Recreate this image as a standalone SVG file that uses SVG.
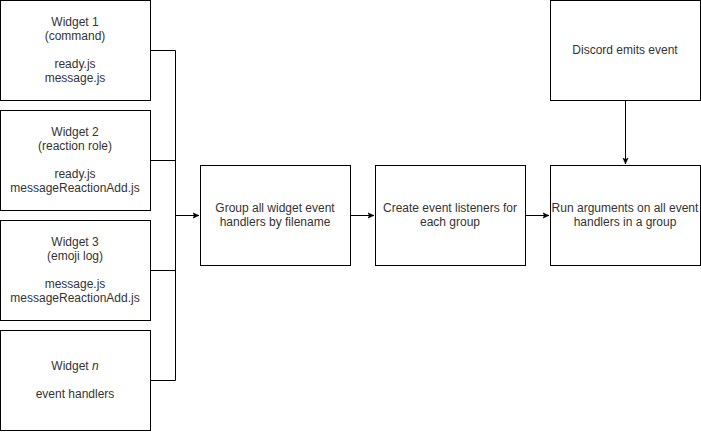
<svg xmlns="http://www.w3.org/2000/svg" width="701" height="432" viewBox="0 0 701 432">
<style>
.box{fill:#fff;stroke:#000;stroke-width:1}
.t{font-family:"Liberation Sans",Arial,sans-serif;font-size:12px;fill:#333;text-anchor:middle}
.e{fill:none;stroke:#000;stroke-width:1}
</style>
<defs>
<marker id="arr" viewBox="0 0 10 10" refX="9" refY="5" markerWidth="7" markerHeight="7" markerUnits="userSpaceOnUse" orient="auto">
<path d="M0,1 L9,5 L0,9 L2.5,5 Z" fill="#000" stroke="#000" stroke-width="0.6"/>
</marker>
</defs>
<rect width="701" height="432" fill="#fff"/>
<g id="connectors">
<path class="e" d="M150.5,50.5 H175.5 V215.5 H199" marker-end="url(#arr)"/>
<path class="e" d="M150.5,160.5 H175.5 V215.5 H199"/>
<path class="e" d="M150.5,270.5 H175.5 V215.5 H199"/>
<path class="e" d="M150.5,380.5 H175.5 V215.5 H199"/>
<path class="e" d="M350.5,215.5 H374" marker-end="url(#arr)"/>
<path class="e" d="M525.5,215.5 H549" marker-end="url(#arr)"/>
<path class="e" d="M625.5,100.5 V164" marker-end="url(#arr)"/>
</g>
<g id="widget1">
<rect class="box" x="0.5" y="0.5" width="150" height="100"/>
<text class="t" x="75" y="26">Widget 1</text>
<text class="t" x="75" y="40">(command)</text>
<text class="t" x="75" y="68">ready.js</text>
<text class="t" x="75" y="82">message.js</text>
</g>
<g id="widget2">
<rect class="box" x="0.5" y="110.5" width="150" height="100"/>
<text class="t" x="75" y="136">Widget 2</text>
<text class="t" x="75" y="150">(reaction role)</text>
<text class="t" x="75" y="178">ready.js</text>
<text class="t" x="75" y="192">messageReactionAdd.js</text>
</g>
<g id="widget3">
<rect class="box" x="0.5" y="220.5" width="150" height="100"/>
<text class="t" x="75" y="246">Widget 3</text>
<text class="t" x="75" y="260">(emoji log)</text>
<text class="t" x="75" y="288">message.js</text>
<text class="t" x="75" y="302">messageReactionAdd.js</text>
</g>
<g id="widgetn">
<rect class="box" x="0.5" y="330.5" width="150" height="100"/>
<text class="t" x="75" y="370">Widget <tspan font-style="italic">n</tspan></text>
<text class="t" x="75" y="398">event handlers</text>
</g>
<g id="group">
<rect class="box" x="200.5" y="165.5" width="150" height="100"/>
<text class="t" x="275" y="212">Group all widget event</text>
<text class="t" x="275" y="226">handlers by filename</text>
</g>
<g id="create">
<rect class="box" x="375.5" y="165.5" width="150" height="100"/>
<text class="t" x="450" y="212">Create event listeners for</text>
<text class="t" x="450" y="226">each group</text>
</g>
<g id="run">
<rect class="box" x="550.5" y="165.5" width="150" height="100"/>
<text class="t" x="625" y="212">Run arguments on all event</text>
<text class="t" x="625" y="226">handlers in a group</text>
</g>
<g id="discord">
<rect class="box" x="550.5" y="0.5" width="150" height="100"/>
<text class="t" x="625" y="54">Discord emits event</text>
</g>
</svg>
